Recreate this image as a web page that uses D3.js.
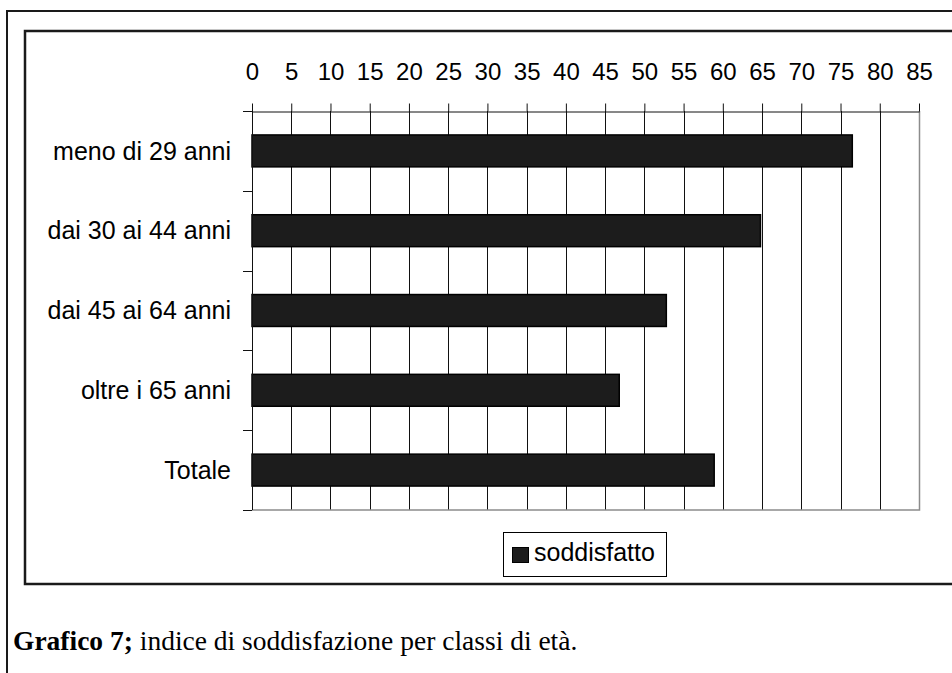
<!DOCTYPE html>
<html lang="it">
<head>
<meta charset="UTF-8">
<title>Grafico 7</title>
<style>
  html, body { margin: 0; padding: 0; background: #fff; }
  svg { display: block; }
</style>
</head>
<body>
<div class="canvas"></div>

<script src="https://cdnjs.cloudflare.com/ajax/libs/d3/7.8.5/d3.min.js"></script>
<script>
    // data
    const categories = ["meno di 29 anni", "dai 30 ai 44 anni", "dai 45 ai 64 anni", "oltre i 65 anni", "Totale"];
    const soddisfatto = [76.5, 64.8, 52.8, 46.8, 58.9];
    const xTicks = [0, 5, 10, 15, 20, 25, 30, 35, 40, 45, 50, 55, 60, 65, 70, 75, 80, 85];
    const seriesName = "soddisfatto";

    const rows = categories.map((c, i) => ({ cat: c, value: soddisfatto[i] }));

    const W = 952, H = 673;
    const plot = { left: 252, right: 919, top: 111, bottom: 510 };
    const sans = "'Liberation Sans', Arial, sans-serif";

    const svg = d3.select(".canvas").append("svg")
        .attr("width", W)
        .attr("height", H);

    svg.append("rect").attr("width", W).attr("height", H).attr("fill", "#fff");

    // outer frame (top + left only, the rest is cut off)
    svg.append("path")
        .attr("d", `M7,${H} V11 H${W + 5}`)
        .attr("fill", "none")
        .attr("stroke", "#1a1a1a")
        .attr("stroke-width", 2);

    // inner chart frame
    svg.append("rect")
        .attr("x", 25).attr("y", 31)
        .attr("width", W).attr("height", 553)
        .attr("fill", "none")
        .attr("stroke", "#1a1a1a")
        .attr("stroke-width", 2.5);

    const x = d3.scaleLinear()
        .domain([0, 85])
        .range([plot.left, plot.right]);

    const y = d3.scaleBand()
        .domain(categories)
        .range([plot.top, plot.bottom])
        .paddingInner(0.6)
        .paddingOuter(0.3);

    // vertical gridlines
    svg.append("g")
        .selectAll("line")
        .data(xTicks.filter(t => t > 0 && t < 85))
        .join("line")
            .attr("x1", d => Math.round(x(d)) + 0.5)
            .attr("x2", d => Math.round(x(d)) + 0.5)
            .attr("y1", plot.top)
            .attr("y2", plot.bottom)
            .attr("stroke", "#111")
            .attr("stroke-width", 1);

    // plot border right + bottom (grey)
    svg.append("path")
        .attr("d", `M${Math.round(x(85)) + 0.5},${plot.top} V${plot.bottom} H${plot.left}`)
        .attr("fill", "none")
        .attr("stroke", "#8c8c8c")
        .attr("stroke-width", 1.5);

    // bars
    svg.append("g")
        .selectAll("rect")
        .data(rows)
        .join("rect")
            .attr("x", x(0))
            .attr("y", d => y(d.cat))
            .attr("width", d => x(d.value) - x(0))
            .attr("height", y.bandwidth())
            .attr("fill", "#1c1c1c")
            .attr("stroke", "#000")
            .attr("stroke-width", 1.5);

    // top value axis
    const xAxis = svg.append("g")
        .attr("transform", `translate(0,${plot.top + 0.5})`)
        .call(d3.axisTop(x).tickValues(xTicks).tickSize(8).tickPadding(24).tickSizeOuter(0));
    xAxis.select(".domain").attr("stroke", "#111");
    xAxis.selectAll(".tick line").attr("stroke", "#111");
    xAxis.selectAll(".tick text")
        .attr("font-family", sans)
        .attr("font-size", 24)
        .attr("fill", "#000");

    // left category axis: ticks at band boundaries
    const bounds = categories.map(c => y(c) - y.step() * y.paddingInner() / 2);
    bounds.push(plot.bottom);
    svg.append("line")
        .attr("x1", plot.left + 0.5).attr("x2", plot.left + 0.5)
        .attr("y1", plot.top).attr("y2", plot.bottom)
        .attr("stroke", "#111");
    svg.append("g")
        .selectAll("line")
        .data(bounds)
        .join("line")
            .attr("x1", plot.left - 9)
            .attr("x2", plot.left)
            .attr("y1", d => Math.round(d) + 0.5)
            .attr("y2", d => Math.round(d) + 0.5)
            .attr("stroke", "#111");

    svg.append("g")
        .selectAll("text")
        .data(categories)
        .join("text")
            .attr("x", 231)
            .attr("y", d => y(d) + y.bandwidth() / 2)
            .attr("dy", "0.35em")
            .attr("text-anchor", "end")
            .attr("font-family", sans)
            .attr("font-size", 25)
            .attr("fill", "#000")
            .text(d => d);

    // legend
    const legend = svg.append("g");
    legend.append("rect")
        .attr("x", 503.5).attr("y", 532.5)
        .attr("width", 163).attr("height", 44)
        .attr("fill", "#fff")
        .attr("stroke", "#000");
    legend.append("rect")
        .attr("x", 512.5).attr("y", 547.5)
        .attr("width", 16).attr("height", 15)
        .attr("fill", "#1c1c1c")
        .attr("stroke", "#000");
    legend.append("text")
        .attr("x", 534).attr("y", 561)
        .attr("font-family", sans)
        .attr("font-size", 25)
        .attr("fill", "#000")
        .text(seriesName);

    // caption
    const cap = svg.append("text")
        .attr("x", 13).attr("y", 650)
        .attr("font-family", "'Liberation Serif', 'Times New Roman', serif")
        .attr("font-size", 27.5)
        .attr("fill", "#000");
    cap.append("tspan").attr("font-weight", "bold").text("Grafico 7;");
    cap.append("tspan").text(" indice di soddisfazione per classi di età.");
</script>
</body>
</html>
